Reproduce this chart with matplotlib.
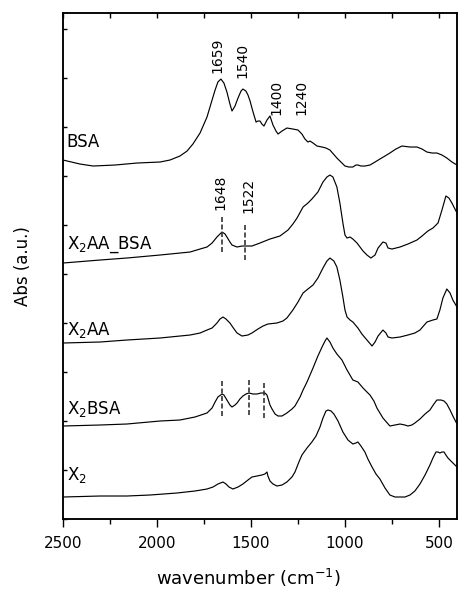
import matplotlib.pyplot as plt
from matplotlib.ticker import MultipleLocator, NullFormatter

# FTIR spectra: wavenumber (cm-1) and absorbance (a.u., stacked with offsets)
bsa_wn = [2500, 2410, 2340, 2223, 2106, 1984, 1931, 1878, 1840, 1809,
          1771, 1734, 1707, 1691, 1676, 1660, 1644, 1628, 1612, 1601,
          1585, 1569, 1553, 1543, 1527, 1516, 1505, 1489, 1473, 1463,
          1452, 1442, 1431, 1415, 1399, 1383, 1367, 1356, 1335, 1309,
          1277, 1250, 1229, 1213, 1197, 1186, 1170, 1149, 1122, 1101,
          1080, 1043, 1000, 979, 958, 942, 931, 915, 894, 867,
          840, 814, 787, 761, 729, 697, 654, 617, 590, 564,
          537, 511, 484, 458, 431, 404]
bsa_abs = [3.59, 3.55, 3.53, 3.54, 3.56, 3.57, 3.59, 3.63, 3.68, 3.75,
           3.86, 4.02, 4.19, 4.29, 4.37, 4.40, 4.36, 4.27, 4.15, 4.08,
           4.13, 4.21, 4.28, 4.30, 4.28, 4.24, 4.18, 4.07, 3.97, 3.98,
           3.98, 3.95, 3.93, 3.99, 4.03, 3.94, 3.88, 3.85, 3.88, 3.91,
           3.90, 3.89, 3.85, 3.80, 3.77, 3.78, 3.76, 3.73, 3.72, 3.71,
           3.69, 3.61, 3.53, 3.52, 3.52, 3.54, 3.54, 3.53, 3.53, 3.54,
           3.57, 3.60, 3.63, 3.66, 3.70, 3.73, 3.72, 3.72, 3.70, 3.67,
           3.66, 3.66, 3.64, 3.61, 3.57, 3.54]

x2aabsa_wn = [2500, 2303, 2160, 1984, 1824, 1771, 1734, 1707, 1681, 1665,
              1654, 1638, 1628, 1612, 1601, 1574, 1548, 1495, 1452, 1399,
              1346, 1303, 1277, 1255, 1223, 1197, 1176, 1144, 1117, 1096,
              1080, 1064, 1043, 1027, 1011, 1000, 989, 973, 958, 936,
              904, 883, 862, 840, 824, 798, 782, 771, 750, 707,
              665, 617, 590, 559, 532, 505, 484, 463, 447, 431,
              404]
x2aabsa_abs = [2.56, 2.59, 2.61, 2.64, 2.67, 2.70, 2.72, 2.76, 2.82, 2.85,
               2.87, 2.85, 2.82, 2.77, 2.74, 2.72, 2.73, 2.73, 2.76, 2.80,
               2.83, 2.89, 2.95, 3.01, 3.12, 3.16, 3.20, 3.27, 3.37, 3.42,
               3.44, 3.42, 3.32, 3.16, 2.96, 2.84, 2.81, 2.82, 2.80, 2.76,
               2.68, 2.64, 2.61, 2.64, 2.71, 2.77, 2.76, 2.71, 2.70, 2.72,
               2.75, 2.79, 2.83, 2.88, 2.91, 2.96, 3.09, 3.23, 3.21, 3.16,
               3.06]

x2aa_wn = [2500, 2303, 2160, 1984, 1824, 1771, 1734, 1707, 1681, 1665,
           1649, 1633, 1612, 1590, 1574, 1548, 1516, 1495, 1463, 1436,
           1410, 1362, 1330, 1309, 1293, 1277, 1250, 1223, 1197, 1170,
           1144, 1117, 1096, 1080, 1059, 1043, 1027, 1011, 1000, 989,
           973, 958, 931, 910, 883, 856, 840, 824, 798, 782,
           771, 750, 707, 665, 628, 601, 564, 532, 511, 495,
           479, 458, 441, 426, 404]
x2aa_abs = [1.76, 1.77, 1.79, 1.81, 1.84, 1.86, 1.89, 1.91, 1.96, 2.00,
            2.02, 2.00, 1.96, 1.90, 1.86, 1.83, 1.84, 1.86, 1.90, 1.93,
            1.95, 1.96, 1.98, 2.01, 2.05, 2.09, 2.17, 2.26, 2.30, 2.34,
            2.41, 2.51, 2.58, 2.61, 2.58, 2.52, 2.39, 2.22, 2.09, 2.02,
            1.99, 1.97, 1.91, 1.85, 1.79, 1.73, 1.77, 1.83, 1.89, 1.86,
            1.82, 1.81, 1.82, 1.84, 1.86, 1.89, 1.97, 1.99, 2.00, 2.09,
            2.21, 2.30, 2.26, 2.19, 2.12]

x2bsa_wn = [2500, 2303, 2160, 1984, 1878, 1798, 1734, 1707, 1691, 1676,
            1654, 1644, 1628, 1612, 1601, 1585, 1574, 1559, 1543, 1527,
            1511, 1489, 1468, 1447, 1426, 1415, 1410, 1399, 1388, 1372,
            1356, 1335, 1309, 1282, 1266, 1239, 1223, 1202, 1170, 1144,
            1122, 1106, 1096, 1080, 1064, 1043, 1016, 989, 958, 931,
            904, 883, 867, 846, 830, 798, 761, 734, 707, 681,
            665, 644, 628, 601, 574, 548, 527, 511, 489, 473,
            458, 441, 426, 404]
x2bsa_abs = [0.93, 0.94, 0.95, 0.98, 0.99, 1.02, 1.06, 1.11, 1.17, 1.22,
             1.25, 1.24, 1.19, 1.14, 1.12, 1.14, 1.16, 1.20, 1.23, 1.25,
             1.26, 1.25, 1.25, 1.26, 1.26, 1.24, 1.21, 1.14, 1.10, 1.05,
             1.03, 1.03, 1.06, 1.10, 1.13, 1.22, 1.29, 1.37, 1.51, 1.63,
             1.72, 1.78, 1.81, 1.77, 1.71, 1.65, 1.59, 1.49, 1.39, 1.37,
             1.31, 1.27, 1.24, 1.18, 1.11, 1.01, 0.93, 0.94, 0.95, 0.94,
             0.93, 0.94, 0.96, 1.00, 1.05, 1.09, 1.15, 1.19, 1.19, 1.18,
             1.15, 1.09, 1.03, 0.95]

x2_wn = [2500, 2303, 2160, 2037, 1894, 1798, 1734, 1702, 1676, 1649,
         1633, 1617, 1596, 1569, 1543, 1516, 1495, 1468, 1442, 1426,
         1415, 1410, 1399, 1383, 1362, 1335, 1309, 1282, 1266, 1245,
         1229, 1202, 1176, 1154, 1133, 1117, 1101, 1090, 1074, 1059,
         1037, 1011, 984, 958, 942, 931, 915, 894, 878, 856,
         835, 814, 787, 761, 734, 707, 681, 654, 628, 601,
         574, 548, 532, 516, 505, 495, 484, 473, 463, 452,
         431, 404]
x2_abs = [0.22, 0.23, 0.23, 0.24, 0.26, 0.28, 0.30, 0.32, 0.35, 0.37,
          0.35, 0.32, 0.30, 0.32, 0.35, 0.39, 0.42, 0.43, 0.44, 0.45,
          0.47, 0.43, 0.38, 0.35, 0.33, 0.34, 0.37, 0.42, 0.47, 0.57,
          0.64, 0.71, 0.77, 0.83, 0.92, 1.01, 1.08, 1.09, 1.08, 1.05,
          0.98, 0.87, 0.79, 0.75, 0.76, 0.77, 0.73, 0.67, 0.60, 0.52,
          0.45, 0.40, 0.31, 0.24, 0.22, 0.22, 0.22, 0.24, 0.28, 0.35,
          0.44, 0.54, 0.61, 0.67, 0.67, 0.66, 0.67, 0.67, 0.64, 0.61,
          0.57, 0.52]

spectra = [
    (bsa_wn, bsa_abs, "BSA", 3.77),
    (x2aabsa_wn, x2aabsa_abs, "X$_2$AA_BSA", 2.74),
    (x2aa_wn, x2aa_abs, "X$_2$AA", 1.89),
    (x2bsa_wn, x2bsa_abs, "X$_2$BSA", 1.10),
    (x2_wn, x2_abs, "X$_2$", 0.44),
]

# rotated peak labels: (text, wavenumber, bottom of text)
peak_labels = [("1659", 1681, 4.46), ("1540", 1543, 4.41), ("1400", 1367, 4.04),
               ("1240", 1234, 4.04), ("1648", 1665, 3.09), ("1522", 1516, 3.06)]

# dashed guide lines: (wavenumber, low, high)
guides = [(1654, 2.67, 3.02), (1532, 2.59, 2.94),
          (1654, 1.03, 1.39), (1511, 1.04, 1.39), (1431, 1.01, 1.36)]

fig = plt.figure(figsize=(4.58, 5.92), dpi=100)
ax = fig.add_axes([0.1376, 0.1233, 0.8602, 0.8547])

for wn, ab, name, label_y in spectra:
    ax.plot(wn, ab, color="black", linewidth=0.85)
    ax.text(2480, label_y, name, fontsize=12, va="center", ha="left")

for text, wn, y in peak_labels:
    ax.text(wn, y, text, rotation=90, fontsize=10, ha="center", va="bottom")

for wn, lo, hi in guides:
    ax.plot([wn, wn], [lo, hi], color="#333333", linestyle=(0, (3, 1.5)),
            linewidth=1.2)

ax.set_xlim(2500, 404)
ax.set_ylim(0, 5.06)
ax.xaxis.set_major_locator(MultipleLocator(500))
ax.xaxis.set_minor_locator(MultipleLocator(250))
ax.yaxis.set_major_locator(MultipleLocator(0.49))
ax.yaxis.set_major_formatter(NullFormatter())
ax.tick_params(axis="x", which="major", direction="out", length=6, width=1,
               labelsize=11, pad=6)
ax.tick_params(axis="x", which="minor", direction="out", length=3.5, width=1)
ax.tick_params(axis="y", direction="in", length=3, width=1, left=True)

# inward ticks along the top edge
top = ax.twiny()
top.set_xlim(ax.get_xlim())
top.xaxis.set_major_locator(MultipleLocator(250))
top.tick_params(axis="x", direction="in", length=3.5, width=1,
                top=True, labeltop=False)

for spine in list(ax.spines.values()) + list(top.spines.values()):
    spine.set_linewidth(1.1)

ax.set_xlabel("wavenumber (cm$^{-1}$)", fontsize=13)
ax.xaxis.set_label_coords(0.47, -0.095)
ax.set_ylabel("Abs (a.u.)", fontsize=12)
ax.yaxis.set_label_coords(-0.08, 0.5)

fig.savefig("out.png", dpi=100)
